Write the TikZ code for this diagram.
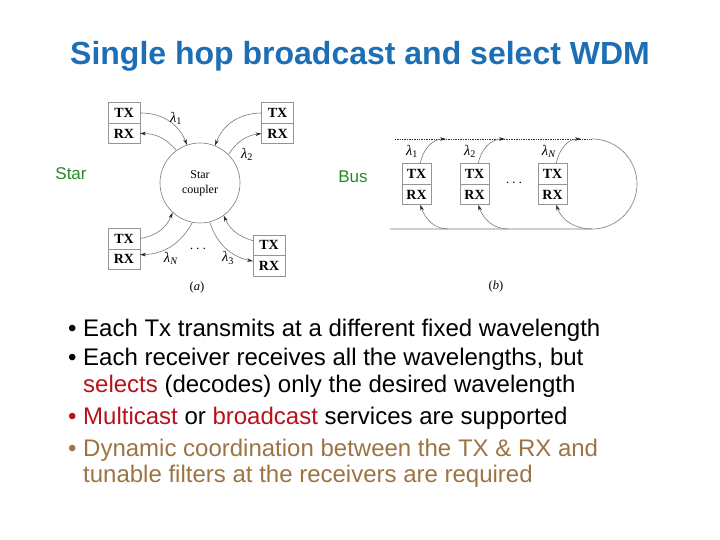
\documentclass[tikz,border=0pt]{standalone}
\usepackage{fontspec}
\setmainfont{Liberation Sans}
\newfontfamily\figfont{Liberation Serif}
\usetikzlibrary{arrows.meta, positioning}
\definecolor{TitleBlue}{HTML}{1C6EB5}
\definecolor{LabelGreen}{HTML}{258A25}
\definecolor{KeyRed}{HTML}{B5121B}
\definecolor{NoteBrown}{HTML}{9C7444}
\definecolor{LineGray}{HTML}{7A7A7A}
\newcommand\lam[1]{\textit{λ}\textsubscript{#1}}

\begin{document}
\begin{tikzpicture}[
  x=1pt, y=1pt,
  trx/.style={rectangle, draw=LineGray!80, fill=white, line width=0.5pt,
    minimum width=32pt, minimum height=20.5pt, inner sep=0pt, outer sep=0pt,
    font=\figfont\bfseries\fontsize{14}{15}\selectfont},
  btrx/.style={trx, minimum width=29pt},
  arr/.style={-{Stealth[length=6pt, width=3.6pt, color=black!85]}, draw=LineGray,
    line width=0.6pt},
  lbl/.style={font=\figfont\fontsize{14.5}{15}\selectfont, inner sep=0pt},
  bullet/.style={anchor=base west, inner sep=0pt, font=\fontsize{24}{26}\selectfont}
]
\useasboundingbox (0,0) rectangle (720,-540);

% Title and side labels
\node[anchor=base, text=TitleBlue, font=\bfseries\fontsize{32}{34}\selectfont]
  (title) at (360,-65) {Single hop broadcast and select WDM};
\node[text=LabelGreen, font=\fontsize{17}{18}\selectfont] (star) at (71,-174) {Star};
\node[text=LabelGreen, font=\fontsize{17}{18}\selectfont] (bus) at (353,-177) {Bus};

% (a) star coupler
\node[circle, draw=LineGray, line width=0.6pt, minimum size=80pt, align=center,
  font=\figfont\fontsize{12}{15}\selectfont] (sc) at (200,-183) {Star\\coupler};
\node[trx] (tA) at (124,-113) {TX};
\node[trx, below=0pt of tA] (rA) {RX};
\node[trx] (tB) at (277.5,-113) {TX};
\node[trx, below=0pt of tB] (rB) {RX};
\node[trx] (tC) at (124,-238.5) {TX};
\node[trx, below=0pt of tC] (rC) {RX};
\node[trx] (tD) at (269,-245) {TX};
\node[trx, below=0pt of tD] (rD) {RX};

\draw[arr] (tA.east) to[bend left=35] (sc.109);
\draw[arr] (sc.126) to[bend right=25] (rA.east);
\draw[arr] (tB.west) to[bend right=35] (sc.68);
\draw[arr] (sc.45) to[bend left=25] (rB.west);
\draw[arr] (tC.east) to[bend right=30] (sc.-133);
\draw[arr] (sc.-101) to[bend left=30] (rC.15);
\draw[arr] (sc.-76) to[bend right=30] (rD.165);
\draw[arr] (tD.165) to[bend left=25] (sc.-54);

\node[lbl] (l1) at (176,-118) {\lam{1}};
\node[lbl] (l2) at (247,-154) {\lam{2}};
\node[lbl] (lN) at (171,-258) {\lam{\textit{N}}};
\node[lbl] (l3) at (228,-258) {\lam{3}};
\node[lbl] (sdots) at (198,-249) {$\cdots$};
\node[lbl, font=\figfont\fontsize{12.5}{14}\selectfont] (capa) at (197,-287) {(\textit{a})};

% (b) bus
\coordinate (topL) at (395,-139);
\coordinate (topR) at (592,-139);
\coordinate (botL) at (390,-229);
\coordinate (botR) at (592,-229);
\coordinate (u1) at (446,-139);
\coordinate (u2) at (505,-139);
\coordinate (u3) at (581,-139);
\coordinate (d1) at (448,-229);
\coordinate (d2) at (508,-229);

\node[btrx] (t1) at (416.5,-174) {TX};
\node[btrx, below=0pt of t1] (r1) {RX};
\node[btrx] (t2) at (474.5,-174) {TX};
\node[btrx, below=0pt of t2] (r2) {RX};
\node[btrx] (t3) at (552.5,-174) {TX};
\node[btrx, below=0pt of t3] (r3) {RX};

\draw[densely dotted, line width=0.7pt, black!80] (topL) -- (topR);
\draw[LineGray, line width=0.6pt] (topR) arc[start angle=90, end angle=-90, radius=45]
  -- (botL);

\draw[arr] (t1.70) to[out=80, in=180] (u1);
\draw[arr] (t2.70) to[out=80, in=180] (u2);
\draw[arr] (t3.70) to[out=80, in=180] (u3);
\draw[arr] (d1) to[out=180, in=-70] (r1.-70);
\draw[arr] (d2) to[out=180, in=-70] (r2.-70);
\draw[arr] (botR) to[out=180, in=-70] (r3.-70);

\node[lbl] (b1) at (412,-151) {\lam{1}};
\node[lbl] (b2) at (470,-151) {\lam{2}};
\node[lbl] (bN) at (549,-151) {\lam{\textit{N}}};
\node[lbl] (bdots) at (514,-183) {$\cdots$};
\node[lbl, font=\figfont\fontsize{12.5}{14}\selectfont] (capb) at (496,-286) {(\textit{b})};

% Bullets
\node[bullet] (k1) at (68,-336) {•};
\node[bullet] (s1) at (83,-336) {Each Tx transmits at a different fixed wavelength};
\node[bullet] (k2) at (68,-365) {•};
\node[bullet] (s2) at (83,-365) {Each receiver receives all the wavelengths, but};
\node[bullet] (s2b) at (83,-392) {\textcolor{KeyRed}{selects} (decodes) only the desired wavelength};
\node[bullet, text=KeyRed] (k3) at (68,-424) {•};
\node[bullet] (s3) at (83,-424) {\textcolor{KeyRed}{Multicast} or \textcolor{KeyRed}{broadcast} services are supported};
\node[bullet, text=NoteBrown] (k4) at (68,-456) {•};
\node[bullet, text=NoteBrown] (s4) at (83,-456) {Dynamic coordination between the TX \& RX and};
\node[bullet, text=NoteBrown] (s4b) at (83,-482) {tunable filters at the receivers are required};
\end{tikzpicture}
\end{document}
